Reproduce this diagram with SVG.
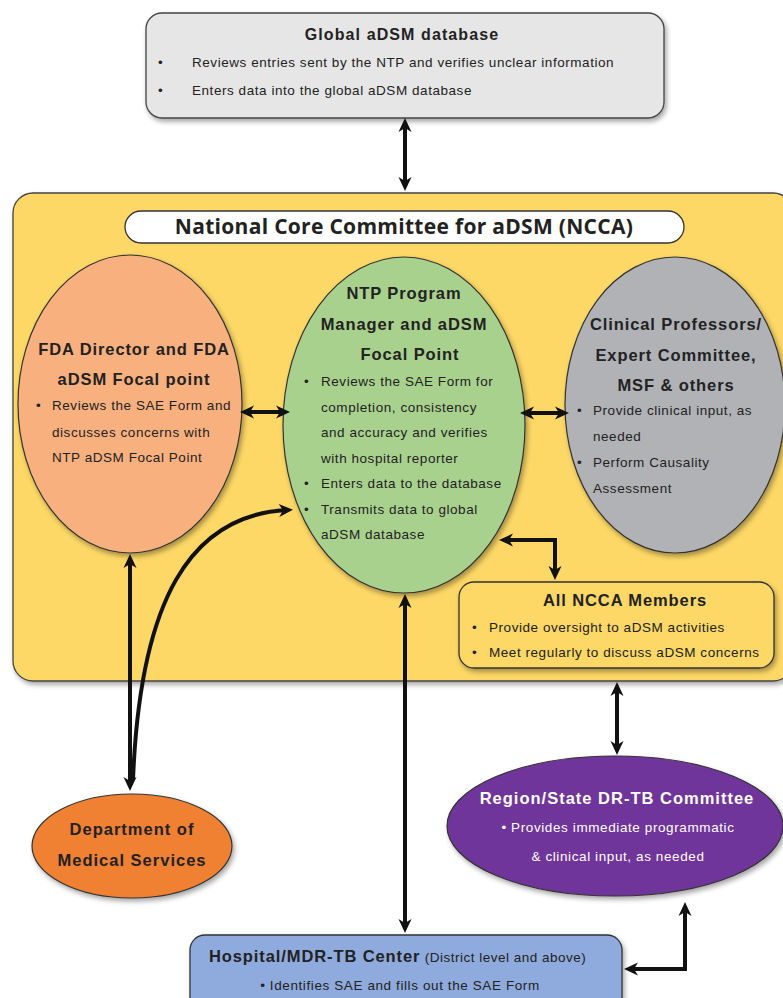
<svg xmlns="http://www.w3.org/2000/svg" width="783" height="998" viewBox="0 0 783 998">
<defs>
<filter id="sh" x="-10%" y="-10%" width="130%" height="130%">
<feDropShadow dx="2" dy="3" stdDeviation="2.5" flood-color="#000" flood-opacity="0.35"/>
</filter>
<marker id="ah" viewBox="-1 -8 16 16" markerWidth="16" markerHeight="16" refX="8" refY="0" orient="auto-start-reverse" markerUnits="userSpaceOnUse">
<path d="M0,-6.5 L14,0 L0,6.5 L4,0 Z" fill="#111"/>
</marker>
</defs>
<style>
.t{font-family:"Liberation Sans",Arial,sans-serif;fill:#222}
.b{font-weight:bold}
.c{text-anchor:middle}
.s{font-size:13.5px;letter-spacing:0.55px}
.h{font-size:16.5px;letter-spacing:0.9px}
.w{fill:#fff}
.ln{fill:none;stroke:#111;stroke-width:4}
.el{stroke:#333;stroke-width:1.2}
</style>
<rect width="783" height="998" fill="#fff"/>

<g id="global">
<rect x="146" y="13" width="518" height="105" rx="16" fill="#e6e6e6" stroke="#444" stroke-width="1.3" filter="url(#sh)"/>
<text class="t b c" x="402" y="40" font-size="16" letter-spacing="1.1">Global aDSM database</text>
<text class="t s" x="158" y="67">•</text>
<text class="t s" x="192" y="67">Reviews entries sent by the NTP and verifies unclear information</text>
<text class="t s" x="158" y="95">•</text>
<text class="t s" x="192" y="95">Enters data into the global aDSM database</text>
</g>

<g id="ncca">
<rect x="13" y="193" width="780" height="488" rx="20" fill="#fdd866" stroke="#444" stroke-width="1.3" filter="url(#sh)"/>
<rect x="125" y="211" width="559" height="32" rx="16" fill="#fff" stroke="#333" stroke-width="1.3"/>
<text x="404" y="234" text-anchor="middle" font-family="'Open Sans',sans-serif" font-weight="bold" font-size="21" letter-spacing="0.3" fill="#222">National Core Committee for aDSM (NCCA)</text>
</g>

<g id="fda">
<ellipse cx="130" cy="404" rx="112" ry="149" fill="#f9b07f" class="el" filter="url(#sh)"/>
<text class="t b c h" x="134" y="355">FDA Director and FDA</text>
<text class="t b c h" x="134" y="385">aDSM Focal point</text>
<text class="t s" x="36" y="410">•</text>
<text class="t s" x="52" y="410">Reviews the SAE Form and</text>
<text class="t s" x="52" y="437">discusses concerns with</text>
<text class="t s" x="52" y="462">NTP aDSM Focal Point</text>
</g>

<g id="ntp">
<ellipse cx="404" cy="425" rx="121" ry="168" fill="#a9d18e" class="el" filter="url(#sh)"/>
<text class="t b c h" x="404" y="299">NTP Program</text>
<text class="t b c h" x="404" y="330">Manager and aDSM</text>
<text class="t b c h" x="410" y="360">Focal Point</text>
<text class="t s" x="304" y="386">•</text>
<text class="t s" x="321" y="386">Reviews the SAE Form for</text>
<text class="t s" x="321" y="412">completion, consistency</text>
<text class="t s" x="321" y="437">and accuracy and verifies</text>
<text class="t s" x="321" y="463">with hospital reporter</text>
<text class="t s" x="304" y="488">•</text>
<text class="t s" x="321" y="488">Enters data to the database</text>
<text class="t s" x="304" y="514">•</text>
<text class="t s" x="321" y="514">Transmits data to global</text>
<text class="t s" x="321" y="539">aDSM database</text>
</g>

<g id="clinical">
<ellipse cx="675" cy="405" rx="110" ry="148" fill="#b1b2b6" class="el" filter="url(#sh)"/>
<text class="t b c h" x="676" y="330">Clinical Professors/</text>
<text class="t b c h" x="676" y="361">Expert Committee,</text>
<text class="t b c h" x="676" y="391">MSF &amp; others</text>
<text class="t s" x="577" y="415">•</text>
<text class="t s" x="593" y="415">Provide clinical input, as</text>
<text class="t s" x="593" y="441">needed</text>
<text class="t s" x="577" y="467">•</text>
<text class="t s" x="593" y="467">Perform Causality</text>
<text class="t s" x="593" y="493">Assessment</text>
</g>

<g id="allncca">
<rect x="459" y="582" width="315" height="86" rx="15" fill="#fdd866" stroke="#333" stroke-width="1.3" filter="url(#sh)"/>
<text class="t b c h" x="625" y="606">All NCCA Members</text>
<text class="t s" x="472" y="632">•</text>
<text class="t s" x="489" y="632">Provide oversight to aDSM activities</text>
<text class="t s" x="472" y="657">•</text>
<text class="t s" x="489" y="657">Meet regularly to discuss aDSM concerns</text>
</g>

<g id="dms">
<ellipse cx="132" cy="846" rx="100" ry="52" fill="#f08030" class="el" filter="url(#sh)"/>
<text class="t b c" x="132" y="835" font-size="16.5" letter-spacing="1">Department of</text>
<text class="t b c" x="132" y="866" font-size="16.5" letter-spacing="1">Medical Services</text>
</g>

<g id="region">
<ellipse cx="615" cy="826" rx="168" ry="70" fill="#70359a" class="el" filter="url(#sh)"/>
<text class="t b c w" x="617" y="804" font-size="16.5" letter-spacing="1">Region/State DR-TB Committee</text>
<text class="t c w" x="618" y="832" font-size="13.5" letter-spacing="0.6">• Provides immediate programmatic</text>
<text class="t c w" x="618" y="861" font-size="13.5" letter-spacing="0.6">&amp; clinical input, as needed</text>
</g>

<g id="hospital">
<rect x="190" y="935" width="432" height="80" rx="15" fill="#8faadc" stroke="#333" stroke-width="1.3" filter="url(#sh)"/>
<text class="t" x="209" y="962"><tspan class="b" font-size="16.5" letter-spacing="0.9">Hospital/MDR-TB Center</tspan><tspan font-size="13.5" letter-spacing="0.5"> (District level and above)</tspan></text>
<text class="t c" x="400" y="990" font-size="13.5" letter-spacing="0.6">• Identifies SAE and fills out the SAE Form</text>
</g>

<g id="connectors">
<line class="ln" x1="405" y1="124" x2="405" y2="185" marker-start="url(#ah)" marker-end="url(#ah)"/>
<line class="ln" x1="246" y1="412" x2="284" y2="412" marker-start="url(#ah)" marker-end="url(#ah)"/>
<line class="ln" x1="526" y1="413" x2="563" y2="413" marker-start="url(#ah)" marker-end="url(#ah)"/>
<path class="ln" d="M505 540 H555 V574" marker-start="url(#ah)" marker-end="url(#ah)"/>
<line class="ln" x1="130" y1="560" x2="130" y2="785" marker-start="url(#ah)" marker-end="url(#ah)"/>
<path class="ln" d="M133 780 C140 600 190 515 287 510" stroke-width="3" marker-end="url(#ah)"/>
<line class="ln" x1="405" y1="600" x2="405" y2="927" marker-start="url(#ah)" marker-end="url(#ah)"/>
<line class="ln" x1="617" y1="688" x2="617" y2="749" marker-start="url(#ah)" marker-end="url(#ah)"/>
<path class="ln" d="M630 969 H685 V908" marker-start="url(#ah)" marker-end="url(#ah)"/>
</g>
</svg>
